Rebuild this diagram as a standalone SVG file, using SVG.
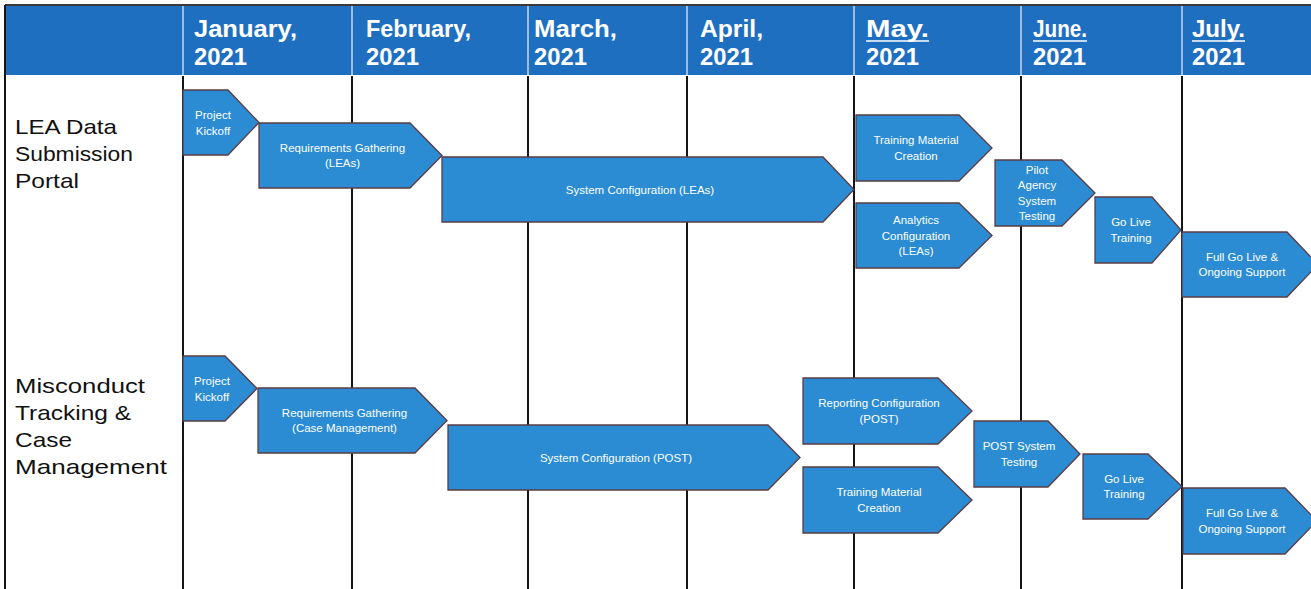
<svg xmlns="http://www.w3.org/2000/svg" width="1311" height="589" viewBox="0 0 1311 589">
<style>
.hdr{font-family:"Liberation Sans",Arial,sans-serif;font-weight:bold;font-size:23px;fill:#ffffff}
.row{font-family:"Liberation Sans",Arial,sans-serif;font-size:21px;fill:#111111}
.chev{fill:#2b8cd4;stroke:#5a3c44;stroke-width:1.3}
.lbl{font-family:"Liberation Sans",Arial,sans-serif;font-size:11.5px;fill:#ffffff;text-anchor:middle}
.grid{stroke:#151515;stroke-width:2}
.hsep{stroke:#c9d6ea;stroke-width:1.5}
</style>
<rect x="0" y="0" width="1311" height="589" fill="#ffffff"/>
<g id="header">
<rect x="5" y="5" width="1306" height="70" fill="#1f6fc1"/>
<line x1="5" y1="5" x2="1311" y2="5" stroke="#3a3a3a" stroke-width="2"/>
<line class="hsep" x1="183" y1="6" x2="183" y2="75"/>
<line class="hsep" x1="352" y1="6" x2="352" y2="75"/>
<line class="hsep" x1="528" y1="6" x2="528" y2="75"/>
<line class="hsep" x1="687" y1="6" x2="687" y2="75"/>
<line class="hsep" x1="854" y1="6" x2="854" y2="75"/>
<line class="hsep" x1="1021" y1="6" x2="1021" y2="75"/>
<line class="hsep" x1="1182" y1="6" x2="1182" y2="75"/>
<text class="hdr" x="194" y="37" textLength="103" lengthAdjust="spacingAndGlyphs">January,</text>
<text class="hdr" x="194" y="65" textLength="53" lengthAdjust="spacingAndGlyphs">2021</text>
<text class="hdr" x="366" y="37" textLength="105" lengthAdjust="spacingAndGlyphs">February,</text>
<text class="hdr" x="366" y="65" textLength="53" lengthAdjust="spacingAndGlyphs">2021</text>
<text class="hdr" x="534" y="37" textLength="83" lengthAdjust="spacingAndGlyphs">March,</text>
<text class="hdr" x="534" y="65" textLength="53" lengthAdjust="spacingAndGlyphs">2021</text>
<text class="hdr" x="700" y="37" textLength="63" lengthAdjust="spacingAndGlyphs">April,</text>
<text class="hdr" x="700" y="65" textLength="53" lengthAdjust="spacingAndGlyphs">2021</text>
<text class="hdr" x="866" y="37" textLength="63" lengthAdjust="spacingAndGlyphs">May.</text>
<line x1="866" y1="41" x2="929" y2="41" stroke="#ffffff" stroke-width="1.5"/>
<text class="hdr" x="866" y="65" textLength="53" lengthAdjust="spacingAndGlyphs">2021</text>
<text class="hdr" x="1033" y="37" textLength="54" lengthAdjust="spacingAndGlyphs">June.</text>
<line x1="1033" y1="41" x2="1087" y2="41" stroke="#ffffff" stroke-width="1.5"/>
<text class="hdr" x="1033" y="65" textLength="53" lengthAdjust="spacingAndGlyphs">2021</text>
<text class="hdr" x="1192" y="37" textLength="53" lengthAdjust="spacingAndGlyphs">July.</text>
<line x1="1192" y1="41" x2="1245" y2="41" stroke="#ffffff" stroke-width="1.5"/>
<text class="hdr" x="1192" y="65" textLength="53" lengthAdjust="spacingAndGlyphs">2021</text>
</g>
<g id="grid">
<line class="grid" x1="5" y1="5" x2="5" y2="589"/>
<line class="grid" x1="183" y1="76" x2="183" y2="589"/>
<line class="grid" x1="352" y1="76" x2="352" y2="589"/>
<line class="grid" x1="528" y1="76" x2="528" y2="589"/>
<line class="grid" x1="687" y1="76" x2="687" y2="589"/>
<line class="grid" x1="854" y1="76" x2="854" y2="589"/>
<line class="grid" x1="1021" y1="76" x2="1021" y2="589"/>
<line class="grid" x1="1182" y1="76" x2="1182" y2="589"/>
</g>
<g id="row-lea">
<text class="row" x="15" y="134" textLength="102" lengthAdjust="spacingAndGlyphs">LEA Data</text>
<text class="row" x="15" y="161" textLength="118" lengthAdjust="spacingAndGlyphs">Submission</text>
<text class="row" x="15" y="188" textLength="64" lengthAdjust="spacingAndGlyphs">Portal</text>
</g>
<g id="row-misconduct">
<text class="row" x="15" y="393" textLength="130" lengthAdjust="spacingAndGlyphs">Misconduct</text>
<text class="row" x="15" y="420" textLength="116" lengthAdjust="spacingAndGlyphs">Tracking &amp;</text>
<text class="row" x="15" y="447" textLength="57" lengthAdjust="spacingAndGlyphs">Case</text>
<text class="row" x="15" y="474" textLength="152" lengthAdjust="spacingAndGlyphs">Management</text>
</g>
<g id="lea-kickoff">
<polygon class="chev" points="183,90 228,90 259,122.5 228,155 183,155"/>
<text class="lbl" x="213" y="119">Project</text>
<text class="lbl" x="213" y="134.5">Kickoff</text>
</g>
<g id="lea-requirements">
<polygon class="chev" points="259,123 410,123 442,155.5 410,188 259,188"/>
<text class="lbl" x="342.5" y="151.5">Requirements Gathering</text>
<text class="lbl" x="342.5" y="167">(LEAs)</text>
</g>
<g id="lea-sysconfig">
<polygon class="chev" points="442,157 823,157 854,189.5 823,222 442,222"/>
<text class="lbl" x="640" y="193.5">System Configuration (LEAs)</text>
</g>
<g id="lea-training-material">
<polygon class="chev" points="856,115 959,115 992,148 959,181 856,181"/>
<text class="lbl" x="916" y="144">Training Material</text>
<text class="lbl" x="916" y="159.5">Creation</text>
</g>
<g id="lea-analytics">
<polygon class="chev" points="856,203 959,203 992,235.5 959,268 856,268"/>
<text class="lbl" x="916" y="224">Analytics</text>
<text class="lbl" x="916" y="239.5">Configuration</text>
<text class="lbl" x="916" y="255">(LEAs)</text>
</g>
<g id="lea-pilot">
<polygon class="chev" points="995,160 1062,160 1095,193 1062,226 995,226"/>
<text class="lbl" x="1037" y="173.5">Pilot</text>
<text class="lbl" x="1037" y="189">Agency</text>
<text class="lbl" x="1037" y="204.5">System</text>
<text class="lbl" x="1037" y="220">Testing</text>
</g>
<g id="lea-golive-training">
<polygon class="chev" points="1095,197 1152,197 1181,230 1152,263 1095,263"/>
<text class="lbl" x="1131" y="226">Go Live</text>
<text class="lbl" x="1131" y="241.5">Training</text>
</g>
<g id="lea-full-golive">
<polygon class="chev" points="1182,232 1287,232 1318,264.5 1287,297 1182,297"/>
<text class="lbl" x="1242" y="260.5">Full Go Live &amp;</text>
<text class="lbl" x="1242" y="276">Ongoing Support</text>
</g>
<g id="mtcm-kickoff">
<polygon class="chev" points="183,356 225,356 257,388.5 225,421 183,421"/>
<text class="lbl" x="212" y="385">Project</text>
<text class="lbl" x="212" y="400.5">Kickoff</text>
</g>
<g id="mtcm-requirements">
<polygon class="chev" points="258,388 415,388 447,420.5 415,453 258,453"/>
<text class="lbl" x="344.5" y="416.5">Requirements Gathering</text>
<text class="lbl" x="344.5" y="432">(Case Management)</text>
</g>
<g id="mtcm-sysconfig">
<polygon class="chev" points="448,425 768,425 800,457.5 768,490 448,490"/>
<text class="lbl" x="616" y="461.5">System Configuration (POST)</text>
</g>
<g id="mtcm-reporting">
<polygon class="chev" points="803,378 938,378 972,411 938,444 803,444"/>
<text class="lbl" x="879" y="407">Reporting Configuration</text>
<text class="lbl" x="879" y="422.5">(POST)</text>
</g>
<g id="mtcm-training-material">
<polygon class="chev" points="803,467 938,467 972,500 938,533 803,533"/>
<text class="lbl" x="879" y="496">Training Material</text>
<text class="lbl" x="879" y="511.5">Creation</text>
</g>
<g id="mtcm-post-testing">
<polygon class="chev" points="974,421 1048,421 1080,454 1048,487 974,487"/>
<text class="lbl" x="1019" y="450">POST System</text>
<text class="lbl" x="1019" y="465.5">Testing</text>
</g>
<g id="mtcm-golive-training">
<polygon class="chev" points="1083,454 1148,454 1182,486.5 1148,519 1083,519"/>
<text class="lbl" x="1124" y="482.5">Go Live</text>
<text class="lbl" x="1124" y="498">Training</text>
</g>
<g id="mtcm-full-golive">
<polygon class="chev" points="1183,488 1285,488 1317,521 1285,554 1183,554"/>
<text class="lbl" x="1242" y="517">Full Go Live &amp;</text>
<text class="lbl" x="1242" y="532.5">Ongoing Support</text>
</g>
</svg>
